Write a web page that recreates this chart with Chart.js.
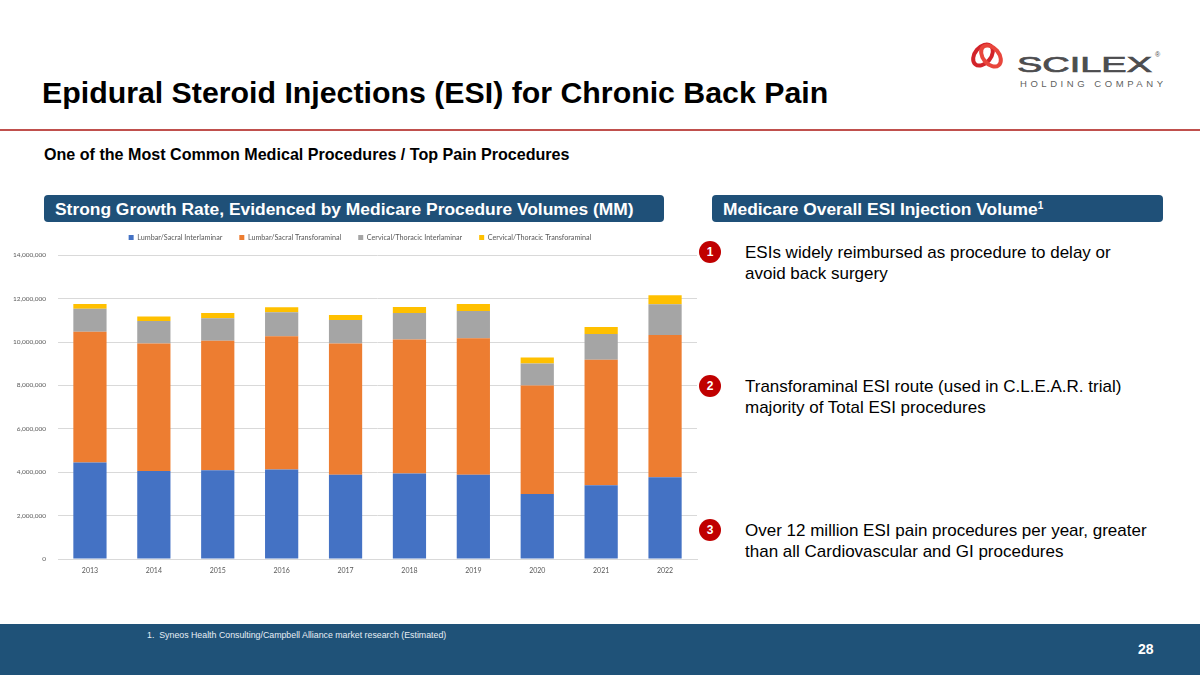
<!DOCTYPE html>
<html>
<head>
<meta charset="utf-8">
<script src="https://cdn.jsdelivr.net/npm/chart.js@4.4.1/dist/chart.umd.min.js"></script>
<style>
  body { margin: 0; width: 1200px; height: 675px; position: relative; overflow: hidden; background: #fff; font-family: "Liberation Sans", Arial, sans-serif; }
  .abs { position: absolute; }
  #title { left: 42px; top: 76px; font-size: 30.3px; font-weight: bold; color: #000; white-space: nowrap; }
  #rule { left: 0; top: 129px; width: 1200px; height: 2px; background: #c0504d; }
  #sub { left: 44px; top: 145px; font-size: 16.1px; font-weight: bold; color: #000; white-space: nowrap; }
  .hdr { top: 195px; height: 27px; background: #1f5078; border-radius: 4px; color: #fff; font-weight: bold; font-size: 17.4px; line-height: 28px; padding-left: 11px; box-sizing: border-box; white-space: nowrap; }
  .hdr sup { font-size: 10px; vertical-align: 6px; line-height: 0; }
  .num { width: 22px; height: 22px; border-radius: 50%; background: #c00000; color: #fff; font-size: 12px; font-weight: bold; text-align: center; line-height: 22px; }
  .pt { left: 745px; font-size: 17px; line-height: 21px; color: #000; width: 425px; }
  #footer { left: 0; top: 624px; width: 1200px; height: 51px; background: #1f5278; }
  #note { left: 147px; top: 630px; font-size: 8.8px; color: #e8eef5; white-space: nowrap; }
  #page { left: 1138px; top: 641px; font-size: 14px; font-weight: bold; color: #fff; }
  #chartBox { left: 0; top: 213px; width: 720px; height: 372px; }
</style>
</head>
<body>
<div class="abs" id="title">Epidural Steroid Injections (ESI) for Chronic Back Pain</div>
<div class="abs" id="rule"></div>
<div class="abs" id="sub">One of the Most Common Medical Procedures / Top Pain Procedures</div>

<!-- logo -->
<svg class="abs" style="left:968px;top:40px" width="210" height="52" viewBox="0 0 210 52">
  <ellipse cx="15" cy="15" rx="8" ry="12" transform="rotate(40 15 15)" fill="none" stroke="#d2232a" stroke-width="4"/>
  <ellipse cx="23" cy="16" rx="8" ry="12" transform="rotate(-40 23 16)" fill="none" stroke="#e8463c" stroke-width="4"/>
  <text x="49" y="32" font-family="Liberation Sans, Arial" font-size="22.5" fill="#4d4d4f" stroke="#4d4d4f" stroke-width="0.7" textLength="135" lengthAdjust="spacingAndGlyphs">SCILEX</text>
  <text x="187" y="17" font-family="Liberation Sans, Arial" font-size="7" fill="#4d4d4f">®</text>
  <text x="52" y="47" font-family="Liberation Sans, Arial" font-size="9.5" fill="#5f5f61" textLength="143" lengthAdjust="spacing">HOLDING COMPANY</text>
</svg>

<div class="abs hdr" style="left:44px;width:620px">Strong Growth Rate, Evidenced by Medicare Procedure Volumes (MM)</div>
<div class="abs hdr" style="left:712px;width:451px">Medicare Overall ESI Injection Volume<sup>1</sup></div>

<div class="abs num" style="left:699px;top:241px">1</div>
<div class="abs pt" style="top:242px;width:385px">ESIs widely reimbursed as procedure to delay or avoid back surgery</div>
<div class="abs num" style="left:699px;top:375px">2</div>
<div class="abs pt" style="top:376px">Transforaminal ESI route (used in C.L.E.A.R. trial) majority of Total ESI procedures</div>
<div class="abs num" style="left:699px;top:519px">3</div>
<div class="abs pt" style="top:520px">Over 12 million ESI pain procedures per year, greater than all Cardiovascular and GI procedures</div>

<div class="abs" id="chartBox"><canvas id="esiChart"></canvas></div>

<div class="abs" id="footer"></div>
<div class="abs" id="note">1.&nbsp; Syneos Health Consulting/Campbell Alliance market research (Estimated)</div>
<div class="abs" id="page">28</div>

<script>
const years = ["2013", "2014", "2015", "2016", "2017", "2018", "2019", "2020", "2021", "2022"];
const lumbarInter = [4450000, 4050000, 4090000, 4130000, 3880000, 3940000, 3880000, 3000000, 3400000, 3770000];
const lumbarTrans = [6020000, 5880000, 5970000, 6130000, 6050000, 6180000, 6290000, 4990000, 5780000, 6550000];
const cervInter = [1060000, 1040000, 1040000, 1110000, 1080000, 1220000, 1260000, 1020000, 1190000, 1420000];
const cervTrans = [220000, 210000, 240000, 230000, 230000, 270000, 320000, 280000, 320000, 410000];
const yTicks = [0, 2000000, 4000000, 6000000, 8000000, 10000000, 12000000, 14000000];

const tickFont = { family: "Lato, 'Open Sans', sans-serif", size: 7 };

// more room under the legend and nudge it right, like the Excel chart
const legendTweak = {
    id: "legendTweak",
    afterInit(chart) {
        const lg = chart.legend;
        const origFit = lg.fit;
        lg.fit = function () {
            origFit.call(this);
            this.height += 4;
            if (this.lineWidths && this.lineWidths.length) this.lineWidths[0] -= 23;
        };
    }
};

new Chart(document.getElementById("esiChart").getContext("2d"), {
    type: "bar",
    data: {
        labels: years,
        datasets: [
            { label: "Lumbar/Sacral Interlaminar", data: lumbarInter, backgroundColor: "#4472c4" },
            { label: "Lumbar/Sacral Transforaminal", data: lumbarTrans, backgroundColor: "#ed7d31" },
            { label: "Cervical/Thoracic Interlaminar", data: cervInter, backgroundColor: "#a5a5a5" },
            { label: "Cervical/Thoracic Transforaminal", data: cervTrans, backgroundColor: "#ffc000" }
        ]
    },
    options: {
        responsive: true,
        maintainAspectRatio: false,
        animation: false,
        layout: { padding: { left: 0, right: 23, top: 4, bottom: 0 } },
        datasets: { bar: { categoryPercentage: 1, barPercentage: 0.52 } },
        plugins: {
            legend: {
                position: "top",
                labels: { font: { family: tickFont.family, size: 7.2 }, color: "#595959", boxWidth: 5, boxHeight: 5, padding: 17 }
            },
            tooltip: { enabled: false }
        },
        scales: {
            x: {
                stacked: true,
                grid: { display: false, drawTicks: false },
                border: { color: "#d9d9d9" },
                ticks: { font: tickFont, color: "#595959", padding: 8, maxRotation: 0 },
                afterFit: function (s) { s.height = 26; }
            },
            y: {
                stacked: true,
                min: 0,
                max: 14000000,
                afterBuildTicks: function (s) { s.ticks = yTicks.map(v => ({ value: v })); },
                grid: { color: "#d9d9d9", drawTicks: false },
                border: { display: false },
                ticks: {
                    font: { family: tickFont.family, size: 6.5 }, color: "#595959", padding: 12,
                    callback: v => v.toLocaleString("en-US")
                },
                afterFit: function (s) { s.width = 58; }
            }
        }
    },
    plugins: [legendTweak]
});
</script>
</body>
</html>
